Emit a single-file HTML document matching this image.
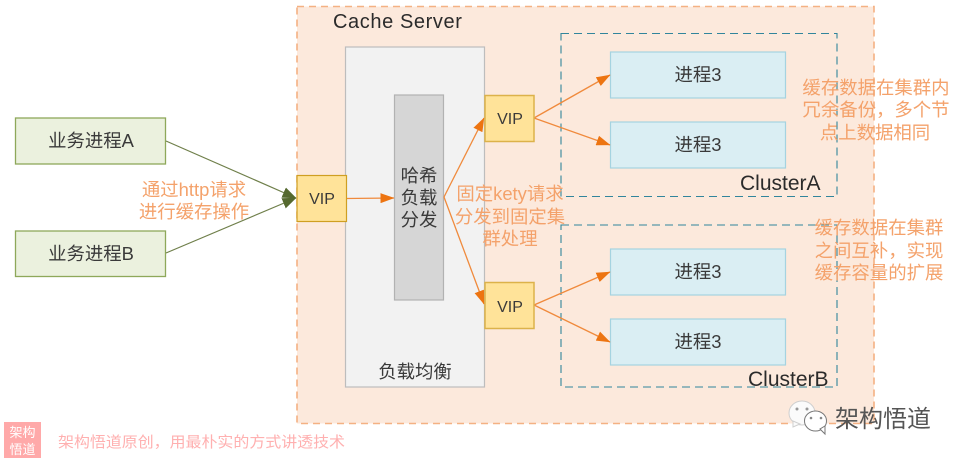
<!DOCTYPE html>
<html><head><meta charset="utf-8">
<style>
html,body{margin:0;padding:0;background:#fff;width:962px;height:462px;overflow:hidden}
svg{display:block}
text{font-family:"Liberation Sans","WenQuanYi Zen Hei","Noto Sans CJK SC",sans-serif}
.b{font-size:18.4px;fill:#3a3a3a;text-anchor:middle}
.v{font-size:16px;fill:#3a3a3a;text-anchor:middle}
.o{font-size:18.4px;fill:#f4a26b;text-anchor:middle}
</style></head><body>
<svg width="962" height="462" viewBox="0 0 962 462" xmlns="http://www.w3.org/2000/svg">
<defs>
<marker id="ao" markerUnits="userSpaceOnUse" markerWidth="14" markerHeight="10" refX="13.500" refY="5" orient="auto"><path d="M0 0L14 5L0 10Z" fill="#ed7411"/></marker>
<marker id="ag" markerUnits="userSpaceOnUse" markerWidth="14" markerHeight="11" refX="13.500" refY="5.500" orient="auto"><path d="M0 0L14 5.500L0 11Z" fill="#55692f"/></marker>
</defs>
<rect x="297" y="6.500" width="577" height="417" fill="#fce9dc" stroke="#f4b183" stroke-width="1.6" stroke-dasharray="7 5"/>
<text x="333" y="28" font-size="20" fill="#2b2b2b" letter-spacing=".6">Cache Server</text>
<rect x="345.500" y="47" width="139" height="340" fill="#f2f2f2" stroke="#bdbdbd" stroke-width="1.2"/>
<rect x="394.500" y="95" width="49" height="205" fill="#d6d6d6" stroke="#b2b2b2" stroke-width="1.2"/>
<text class="b" x="419" y="182">哈希</text><text class="b" x="419" y="204">负载</text><text class="b" x="419" y="226">分发</text>
<text class="b" x="415" y="378">负载均衡</text>
<rect x="561" y="33.500" width="276" height="163" fill="none" stroke="#31859c" stroke-width="1.1" stroke-dasharray="8 5"/>
<rect x="561" y="225" width="276" height="162" fill="none" stroke="#31859c" stroke-width="1.1" stroke-dasharray="8 5"/>
<g fill="#daeef3" stroke="#a5d3e0" stroke-width="1.2">
<rect x="610.500" y="52" width="175" height="46"/><rect x="610.500" y="122" width="175" height="46"/>
<rect x="610.500" y="249" width="175" height="46"/><rect x="610.500" y="319" width="175" height="46"/>
</g>
<text class="b" x="698" y="81">进程3</text><text class="b" x="698" y="151">进程3</text>
<text class="b" x="698" y="278">进程3</text><text class="b" x="698" y="348">进程3</text>
<text x="740" y="190" font-size="21" fill="#2b2b2b">ClusterA</text>
<text x="748" y="386" font-size="21" fill="#2b2b2b">ClusterB</text>
<rect x="15.500" y="118" width="150" height="46" fill="#ebf1de" stroke="#8ea85a" stroke-width="1.3"/>
<rect x="15.500" y="231" width="150" height="45.500" fill="#ebf1de" stroke="#8ea85a" stroke-width="1.3"/>
<text class="b" x="91" y="147">业务进程A</text><text class="b" x="91" y="260">业务进程B</text>
<g stroke="#6f7f4a" stroke-width="1.2" fill="none">
<line x1="166" y1="141" x2="296" y2="198" marker-end="url(#ag)"/>
<line x1="166" y1="253" x2="296" y2="198" marker-end="url(#ag)"/>
</g>
<g stroke="#f08a3c" stroke-width="1.3" fill="none">
<line x1="346" y1="198.500" x2="394" y2="198" marker-end="url(#ao)"/>
<line x1="444" y1="197" x2="484" y2="118" marker-end="url(#ao)"/>
<line x1="444" y1="197" x2="484" y2="304" marker-end="url(#ao)"/>
<line x1="534" y1="118" x2="610" y2="75" marker-end="url(#ao)"/>
<line x1="534" y1="118" x2="610" y2="145" marker-end="url(#ao)"/>
<line x1="534" y1="305" x2="610" y2="272" marker-end="url(#ao)"/>
<line x1="534" y1="305" x2="610" y2="342" marker-end="url(#ao)"/>
</g>
<g fill="#ffe399" stroke="#cf9f22" stroke-width="1.2">
<rect x="297" y="175.500" width="49.500" height="46"/>
</g>
<g fill="#ffe399" stroke="#dcb24a" stroke-width="1.5">
<rect x="485" y="95.500" width="49" height="46"/><rect x="485" y="282.500" width="49" height="46"/>
</g>
<text class="v" x="322" y="204">VIP</text><text class="v" x="510" y="124">VIP</text><text class="v" x="510" y="312">VIP</text>
<text class="o" x="194" y="196">通过http请求</text><text class="o" x="194" y="218">进行缓存操作</text>
<text class="o" x="510" y="200">固定kety请求</text><text class="o" x="510" y="223">分发到固定集</text><text class="o" x="510" y="245">群处理</text>
<text class="o" x="876" y="94">缓存数据在集群内</text><text class="o" x="876" y="116">冗余备份，多个节</text><text class="o" x="875" y="139">点上数据相同</text>
<text class="o" x="879" y="234">缓存数据在集群</text><text class="o" x="879" y="257">之间互补，实现</text><text class="o" x="879" y="279">缓存容量的扩展</text>
<rect x="4" y="422" width="37" height="36" fill="#ffa9a9"/>
<text x="22.500" y="437" font-size="13" fill="#fff" text-anchor="middle">架构</text>
<text x="22.500" y="454" font-size="13" fill="#fff" text-anchor="middle">悟道</text>
<text x="58" y="447" font-size="15" fill="#ffb0b0" textLength="287" lengthAdjust="spacingAndGlyphs">架构悟道原创，用最朴实的方式讲透技术</text>
<g>
<ellipse cx="802" cy="413" rx="13" ry="12" fill="#fbfbfb" stroke="#cfcfcf" stroke-width="1"/>
<path d="M793 421L793 427L800 424Z" fill="#fbfbfb" stroke="#cfcfcf"/>
<circle cx="797" cy="409" r="1.500" fill="#999"/><circle cx="807" cy="409" r="1.500" fill="#999"/>
<ellipse cx="815.500" cy="421" rx="11" ry="10" fill="#fff" stroke="#777" stroke-width="1"/>
<path d="M820 429L825 434L825 426Z" fill="#fff" stroke="#777"/>
<circle cx="811" cy="418" r="1.300" fill="#888"/><circle cx="821" cy="418" r="1.300" fill="#888"/>
</g>
<text x="835" y="427" font-size="24" fill="#555" textLength="96" lengthAdjust="spacingAndGlyphs">架构悟道</text>
</svg>
</body></html>
